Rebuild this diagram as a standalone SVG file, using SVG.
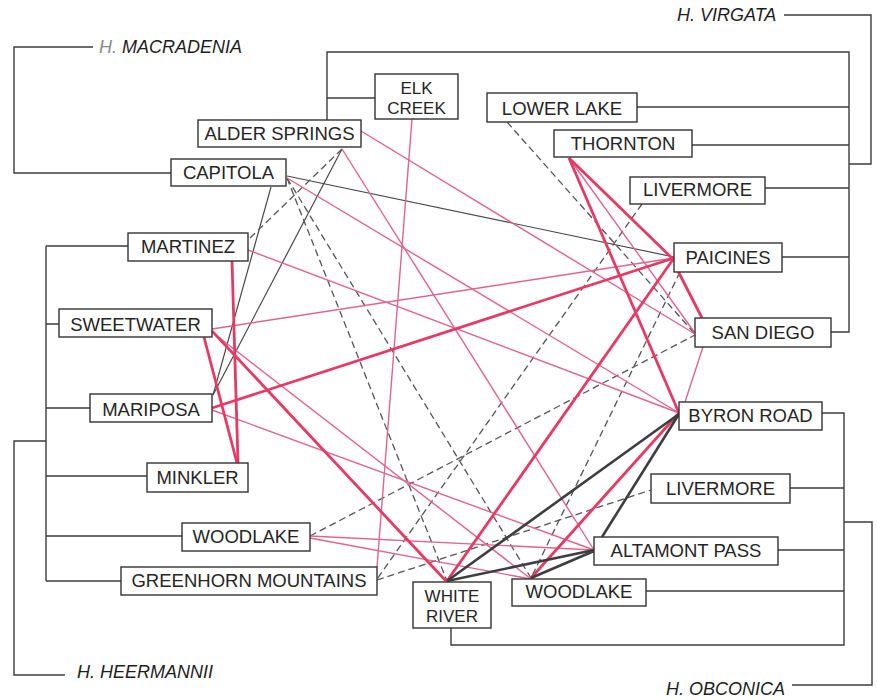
<svg xmlns="http://www.w3.org/2000/svg" width="877" height="700" viewBox="0 0 877 700">
  <style>
    .box { fill: #fff; stroke: #333; stroke-width: 1.4; }
    .lbl { font-family: "Liberation Sans", Arial, sans-serif; font-size: 18.5px; fill: #262626; text-anchor: middle; }
    .two { font-size: 17px; }
    .sp { font-family: "Liberation Sans", Arial, sans-serif; font-size: 18px; font-style: italic; fill: #1e1e1e; }
    .tree { fill: none; stroke: #3c3c3c; stroke-width: 1.4; }
    .pk { stroke: #e0648c; stroke-width: 1.4; fill: none; }
    .pkb { stroke: #e63a64; stroke-width: 2.8; fill: none; }
    .dk { stroke: #4a4a4a; stroke-width: 1.2; fill: none; }
    .dkb { stroke: #3e3e3e; stroke-width: 2.6; fill: none; }
    .ds { stroke: #555; stroke-width: 1.3; stroke-dasharray: 7 4; fill: none; }
  </style>
  <rect width="877" height="700" fill="#fff"/>

  <!-- cluster brackets -->
  <g id="tree">
    <!-- H. macradenia -->
    <path class="tree" d="M93 47 H14 V173 H171"/>
    <!-- H. virgata -->
    <path class="tree" d="M327 120 V52 H849 V332 H831"/>
    <path class="tree" d="M327 98 H375"/>
    <path class="tree" d="M637 107 H849 M692 145 H849 M765 188 H849 M782 257 H849"/>
    <path class="tree" d="M784 15 H871 V164 H849"/>
    <!-- H. heermannii -->
    <path class="tree" d="M46 246 V581"/>
    <path class="tree" d="M46 246 H128 M46 324 H59 M46 408 H90 M46 476 H147 M46 536 H182 M46 581 H121"/>
    <path class="tree" d="M46 441 H14 V675 H65"/>
    <!-- H. obconica -->
    <path class="tree" d="M822 413 H844 V645 H451 V628"/>
    <path class="tree" d="M790 488 H844 M778 550 H844 M646 591 H844"/>
    <path class="tree" d="M844 522 H872 V685 H792"/>
  </g>

  <g id="species">
    <text class="sp" x="99" y="53"><tspan fill="#8a8a8a">H.</tspan> MACRADENIA</text>
    <text class="sp" x="677" y="21">H. VIRGATA</text>
    <text class="sp" x="77" y="678">H. HEERMANNII</text>
    <text class="sp" x="666" y="695" fill="#4a4a4a">H. OBCONICA</text>
  </g>

  <!-- crossing links between populations -->
  <g id="connectors">
    <!-- thin dark -->
    <line class="dk" x1="287" y1="176" x2="674" y2="257"/>
    <line class="dk" x1="271" y1="187" x2="213" y2="395"/>
    <line class="dk" x1="342" y1="149" x2="213" y2="395"/>
    <!-- dashed -->
    <line class="ds" x1="342" y1="149" x2="248" y2="240"/>
    <line class="ds" x1="287" y1="178" x2="447" y2="581"/>
    <line class="ds" x1="287" y1="178" x2="531" y2="578"/>
    <line class="ds" x1="507" y1="122" x2="695" y2="334"/>
    <line class="ds" x1="642" y1="204" x2="377" y2="579"/>
    <line class="ds" x1="680" y1="272" x2="531" y2="578"/>
    <line class="ds" x1="310" y1="536" x2="695" y2="335"/>
    <line class="ds" x1="377" y1="580" x2="651" y2="490"/>
    <!-- thin pink -->
    <line class="pk" x1="212" y1="329" x2="674" y2="258"/>
    <line class="pk" x1="212" y1="332" x2="531" y2="579"/>
    <line class="pk" x1="212" y1="410" x2="594" y2="550"/>
    <line class="pk" x1="248" y1="250" x2="679" y2="413"/>
    <line class="pk" x1="287" y1="178" x2="679" y2="413"/>
    <line class="pk" x1="361" y1="131" x2="695" y2="334"/>
    <line class="pk" x1="342" y1="149" x2="594" y2="550"/>
    <line class="pk" x1="412" y1="119" x2="377" y2="567"/>
    <line class="pk" x1="310" y1="536" x2="594" y2="550"/>
    <line class="pk" x1="310" y1="538" x2="531" y2="579"/>
    <line class="pk" x1="685" y1="402" x2="703" y2="347"/>
    <line class="pk" x1="569" y1="158" x2="695" y2="333"/>
    <!-- thick pink -->
    <line class="pkb" x1="232" y1="261" x2="238" y2="463"/>
    <line class="pkb" x1="204" y1="337" x2="237" y2="463"/>
    <line class="pkb" x1="212" y1="331" x2="446" y2="581"/>
    <line class="pkb" x1="212" y1="408" x2="674" y2="258"/>
    <line class="pkb" x1="447" y1="581" x2="674" y2="258"/>
    <line class="pkb" x1="531" y1="578" x2="679" y2="413"/>
    <line class="pkb" x1="569" y1="158" x2="679" y2="413"/>
    <line class="pkb" x1="569" y1="158" x2="676" y2="262"/>
    <line class="pkb" x1="678" y1="271" x2="702" y2="318"/>
    <!-- thick dark -->
    <line class="dkb" x1="447" y1="581" x2="679" y2="414"/>
    <line class="dkb" x1="447" y1="581" x2="594" y2="550"/>
    <line class="dkb" x1="531" y1="578" x2="594" y2="551"/>
    <line class="dkb" x1="602" y1="537" x2="679" y2="414"/>
  </g>

  <!-- population nodes -->
  <g id="elk-creek"><rect class="box" x="375" y="74" width="83" height="45"/><text class="lbl two"><tspan x="416.5" y="94">ELK</tspan><tspan x="416.5" y="113.5">CREEK</tspan></text></g>
  <g id="alder-springs"><rect class="box" x="198" y="120" width="163" height="27"/><text class="lbl" x="279.5" y="140">ALDER SPRINGS</text></g>
  <g id="capitola"><rect class="box" x="171" y="159" width="115" height="27"/><text class="lbl" x="228.5" y="179">CAPITOLA</text></g>
  <g id="lower-lake"><rect class="box" x="487" y="93" width="150" height="29"/><text class="lbl" x="562" y="115">LOWER LAKE</text></g>
  <g id="thornton"><rect class="box" x="554" y="130" width="138" height="27"/><text class="lbl" x="623" y="150">THORNTON</text></g>
  <g id="livermore-north"><rect class="box" x="630" y="177" width="135" height="27"/><text class="lbl" x="697.5" y="196">LIVERMORE</text></g>
  <g id="paicines"><rect class="box" x="674" y="243" width="108" height="29"/><text class="lbl" x="728" y="264">PAICINES</text></g>
  <g id="san-diego"><rect class="box" x="695" y="318" width="136" height="29"/><text class="lbl" x="763" y="339">SAN DIEGO</text></g>
  <g id="byron-road"><rect class="box" x="679" y="402" width="143" height="28"/><text class="lbl" x="750.5" y="422">BYRON ROAD</text></g>
  <g id="livermore-south"><rect class="box" x="651" y="474" width="139" height="29"/><text class="lbl" x="720.5" y="495">LIVERMORE</text></g>
  <g id="altamont-pass"><rect class="box" x="594" y="537" width="184" height="28"/><text class="lbl" x="686" y="557">ALTAMONT PASS</text></g>
  <g id="woodlake-east"><rect class="box" x="512" y="579" width="134" height="27"/><text class="lbl" x="579" y="598">WOODLAKE</text></g>
  <g id="white-river"><rect class="box" x="413" y="582" width="78" height="46"/><text class="lbl two"><tspan x="452" y="602">WHITE</tspan><tspan x="452" y="621.5">RIVER</tspan></text></g>
  <g id="greenhorn-mountains"><rect class="box" x="121" y="567" width="256" height="28"/><text class="lbl" x="249" y="587" fill="#111">GREENHORN MOUNTAINS</text></g>
  <g id="woodlake-west"><rect class="box" x="182" y="523" width="128" height="28"/><text class="lbl" x="246" y="543" fill="#111">WOODLAKE</text></g>
  <g id="minkler"><rect class="box" x="147" y="463" width="101" height="29"/><text class="lbl" x="197.5" y="484" fill="#111">MINKLER</text></g>
  <g id="mariposa"><rect class="box" x="90" y="394" width="122" height="28"/><text class="lbl" x="151" y="416">MARIPOSA</text></g>
  <g id="sweetwater"><rect class="box" x="59" y="309" width="153" height="28"/><text class="lbl" x="135.5" y="331">SWEETWATER</text></g>
  <g id="martinez"><rect class="box" x="128" y="233" width="120" height="28"/><text class="lbl" x="188" y="253">MARTINEZ</text></g>
</svg>
